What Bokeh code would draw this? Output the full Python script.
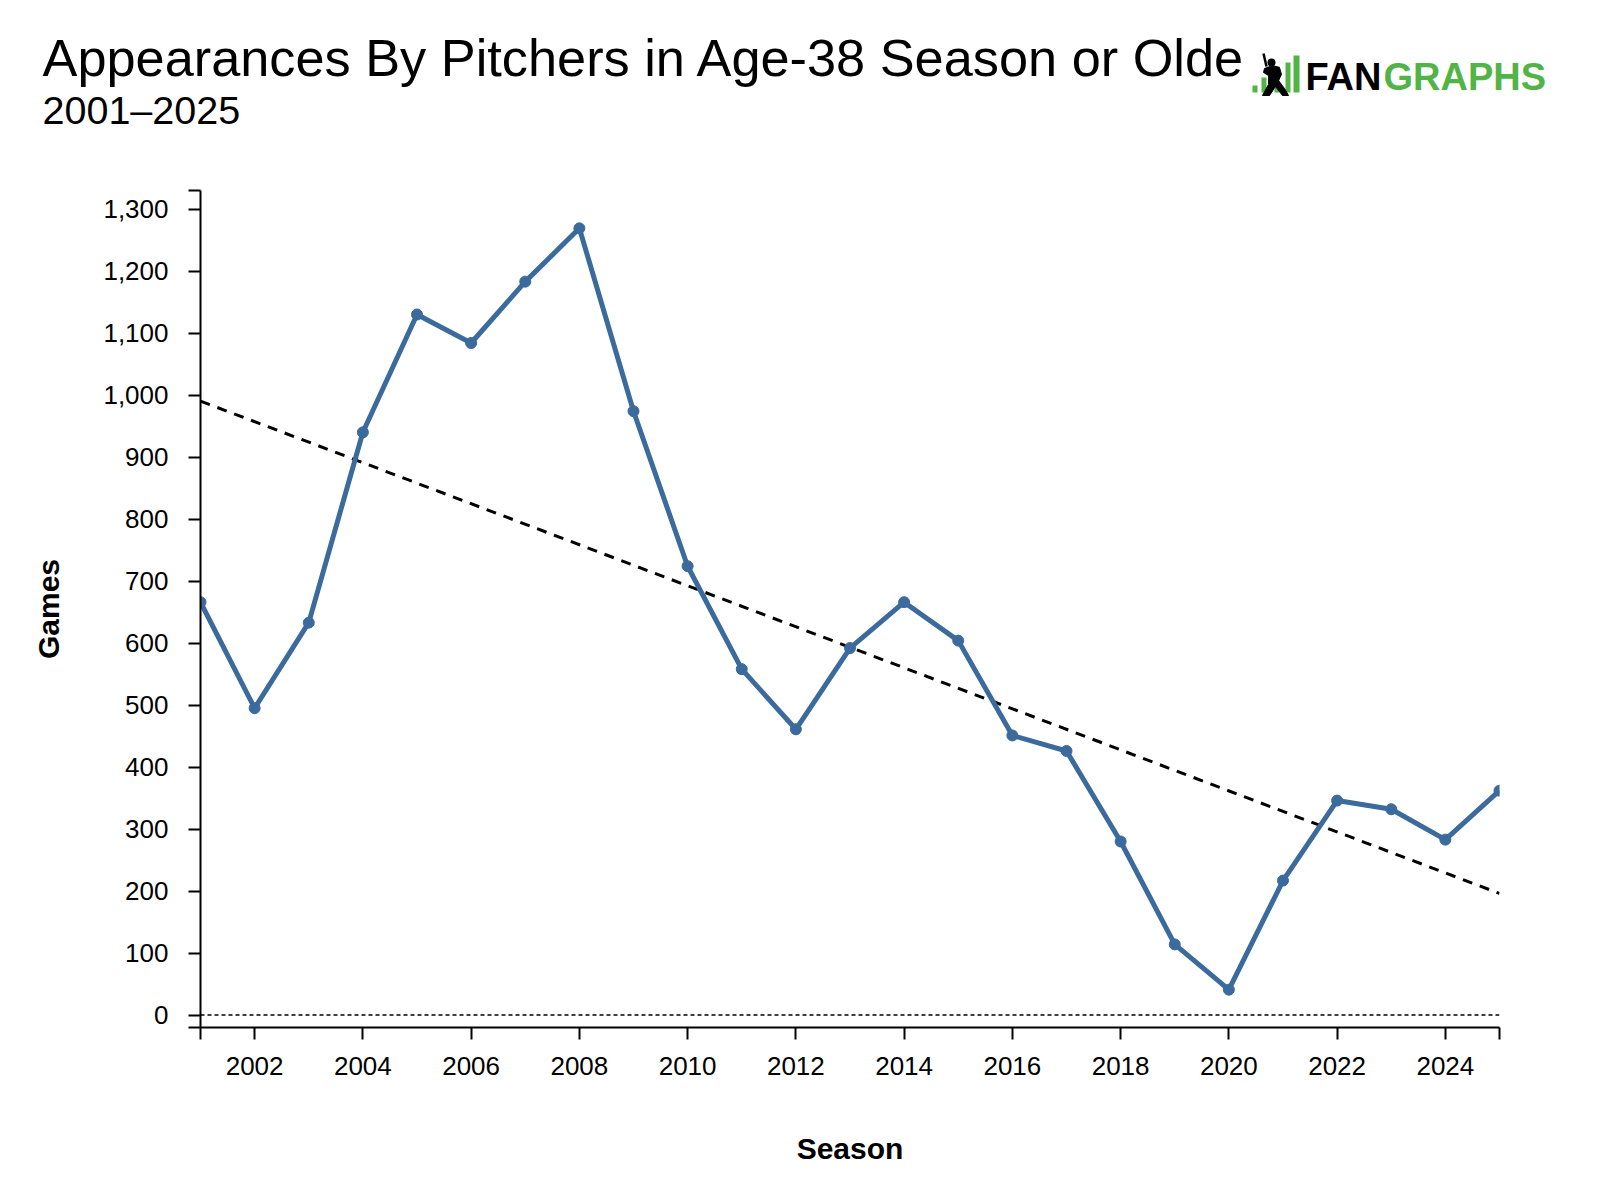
import numpy as np
from bokeh.plotting import figure
from bokeh.layouts import column
from bokeh.models import Range1d, FixedTicker, CustomJSTickFormatter, Span
from bokeh.core.properties import value
from bokeh.embed import file_html
from bokeh.resources import INLINE

# ---- data ----
seasons = [2001, 2002, 2003, 2004, 2005, 2006, 2007, 2008, 2009, 2010, 2011, 2012, 2013,
           2014, 2015, 2016, 2017, 2018, 2019, 2020, 2021, 2022, 2023, 2024, 2025]
games = [666, 495, 633, 940, 1130, 1084, 1183, 1269, 974, 724, 558, 461, 592,
         666, 604, 451, 426, 280, 114, 41, 217, 346, 332, 283, 362]
x_tick_years = [2001, 2002, 2004, 2006, 2008, 2010, 2012, 2014, 2016, 2018, 2020, 2022, 2024, 2025]
y_tick_values = [-20, 0, 100, 200, 300, 400, 500, 600, 700, 800, 900, 1000, 1100, 1200, 1300, 1330]

title_text = "Appearances By Pitchers in Age-38 Season or Older"
subtitle_text = "2001\u20132025"

FONT = "Liberation Sans"
LINE_COLOR = "#3b6a9c"
GREEN = "#52b447"

# trend line (least squares fit of the series)
slope, intercept = np.polyfit(seasons, games, 1)
trend_x = [seasons[0], seasons[-1]]
trend_y = [slope * seasons[0] + intercept, slope * seasons[-1] + intercept]

W = 1560
HH = 150


def no_align(fig):
    if hasattr(fig, "frame_align"):
        fig.frame_align = False


# ---- header figure (title, subtitle, logo), pixel coordinates ----
h = figure(width=W, height=HH, x_range=Range1d(0, W), y_range=Range1d(HH, 0),
           toolbar_location=None, output_backend="svg", min_border=0)
no_align(h)
h.axis.visible = False
h.grid.visible = False
h.outline_line_color = None
h.background_fill_color = "white"
h.border_fill_color = "white"

h.text(x=[42], y=[57], text=[title_text], text_font=value(FONT), text_font_size="52.3px",
       text_baseline="alphabetic", text_align="left", text_color="black")
h.text(x=[42], y=[109], text=[subtitle_text], text_font=value(FONT), text_font_size="39.5px",
       text_baseline="alphabetic", text_align="left", text_color="black")
# white box of the logo covering the end of the title
h.quad(left=[1243], right=[1303], top=[20], bottom=[100], fill_color="white", line_color=None)
# logo bars
h.quad(left=[1252, 1261, 1274, 1285, 1293], right=[1257, 1266, 1279, 1290, 1299],
       top=[85, 77, 66, 62, 55], bottom=[92, 92, 92, 92, 92], fill_color=GREEN, line_color=None)
# batter silhouette
bx = [1264, 1272, 1279, 1281, 1278, 1284, 1288, 1282, 1275, 1269, 1262, 1268, 1268, 1263]
by = [68, 65, 67, 74, 80, 88, 95, 95, 86, 95, 95, 84, 75, 72]
h.patch(bx, by, fill_color="black", line_color="black", line_width=1)
h.scatter(x=[1271], y=[62], size=8, fill_color="black", line_color=None)
h.segment(x0=[1263], y0=[53], x1=[1266], y1=[66], line_color="black", line_width=2.5)
# logo wordmark
h.text(x=[1305], y=[76], text=["FAN"], text_font=value(FONT), text_font_size="38px",
       text_font_style="bold", text_baseline="alphabetic", text_align="left", text_color="black")
h.text(x=[1383], y=[76], text=["GRAPHS"], text_font=value(FONT), text_font_size="38px",
       text_font_style="bold", text_baseline="alphabetic", text_align="left", text_color=GREEN)

# ---- main chart ----
p = figure(width=W, height=1030, x_range=Range1d(2001, 2025), y_range=Range1d(-20, 1330),
           toolbar_location=None, output_backend="svg",
           min_border_left=200, min_border_right=61, min_border_top=40, min_border_bottom=153)
no_align(p)
p.grid.visible = False
p.outline_line_color = None
p.background_fill_color = "white"
p.border_fill_color = "white"

p.add_layout(Span(location=0, dimension="width", line_color="black", line_width=1.5,
                  line_dash="4 3"))
p.line(trend_x, trend_y, line_color="black", line_width=3, line_dash="10 8")
p.line(seasons, games, line_color=LINE_COLOR, line_width=5)
p.scatter(seasons, games, size=11, fill_color=LINE_COLOR, line_color=LINE_COLOR)

p.xaxis.ticker = FixedTicker(ticks=x_tick_years)
p.xaxis.formatter = CustomJSTickFormatter(code="return (tick % 2 == 1) ? '' : String(tick);")
p.yaxis.ticker = FixedTicker(ticks=y_tick_values)
p.yaxis.formatter = CustomJSTickFormatter(
    code="if (tick < 0 || tick > 1300) { return ''; } "
         "return String(tick).replace(/\\B(?=(\\d{3})+(?!\\d))/g, ',');")

for ax in (p.xaxis, p.yaxis):
    ax.axis_line_color = "black"
    ax.axis_line_width = 2
    ax.major_tick_line_color = "black"
    ax.major_tick_line_width = 2
    ax.major_tick_in = 0
    ax.major_tick_out = 12
    ax.minor_tick_line_color = None
    ax.major_label_text_font = FONT
    ax.major_label_text_font_size = "26px"
    ax.major_label_text_color = "black"
    ax.axis_label_text_font = FONT
    ax.axis_label_text_font_size = "30px"
    ax.axis_label_text_font_style = "bold"
    ax.axis_label_text_color = "black"

p.xaxis.axis_label = "Season"
p.yaxis.axis_label = "Games"
p.xaxis.major_label_standoff = 17
p.yaxis.major_label_standoff = 20
p.xaxis.axis_label_standoff = 54
p.yaxis.axis_label_standoff = 35

layout = column(h, p, spacing=0)
open("out.html", "w").write(file_html(layout, INLINE))
